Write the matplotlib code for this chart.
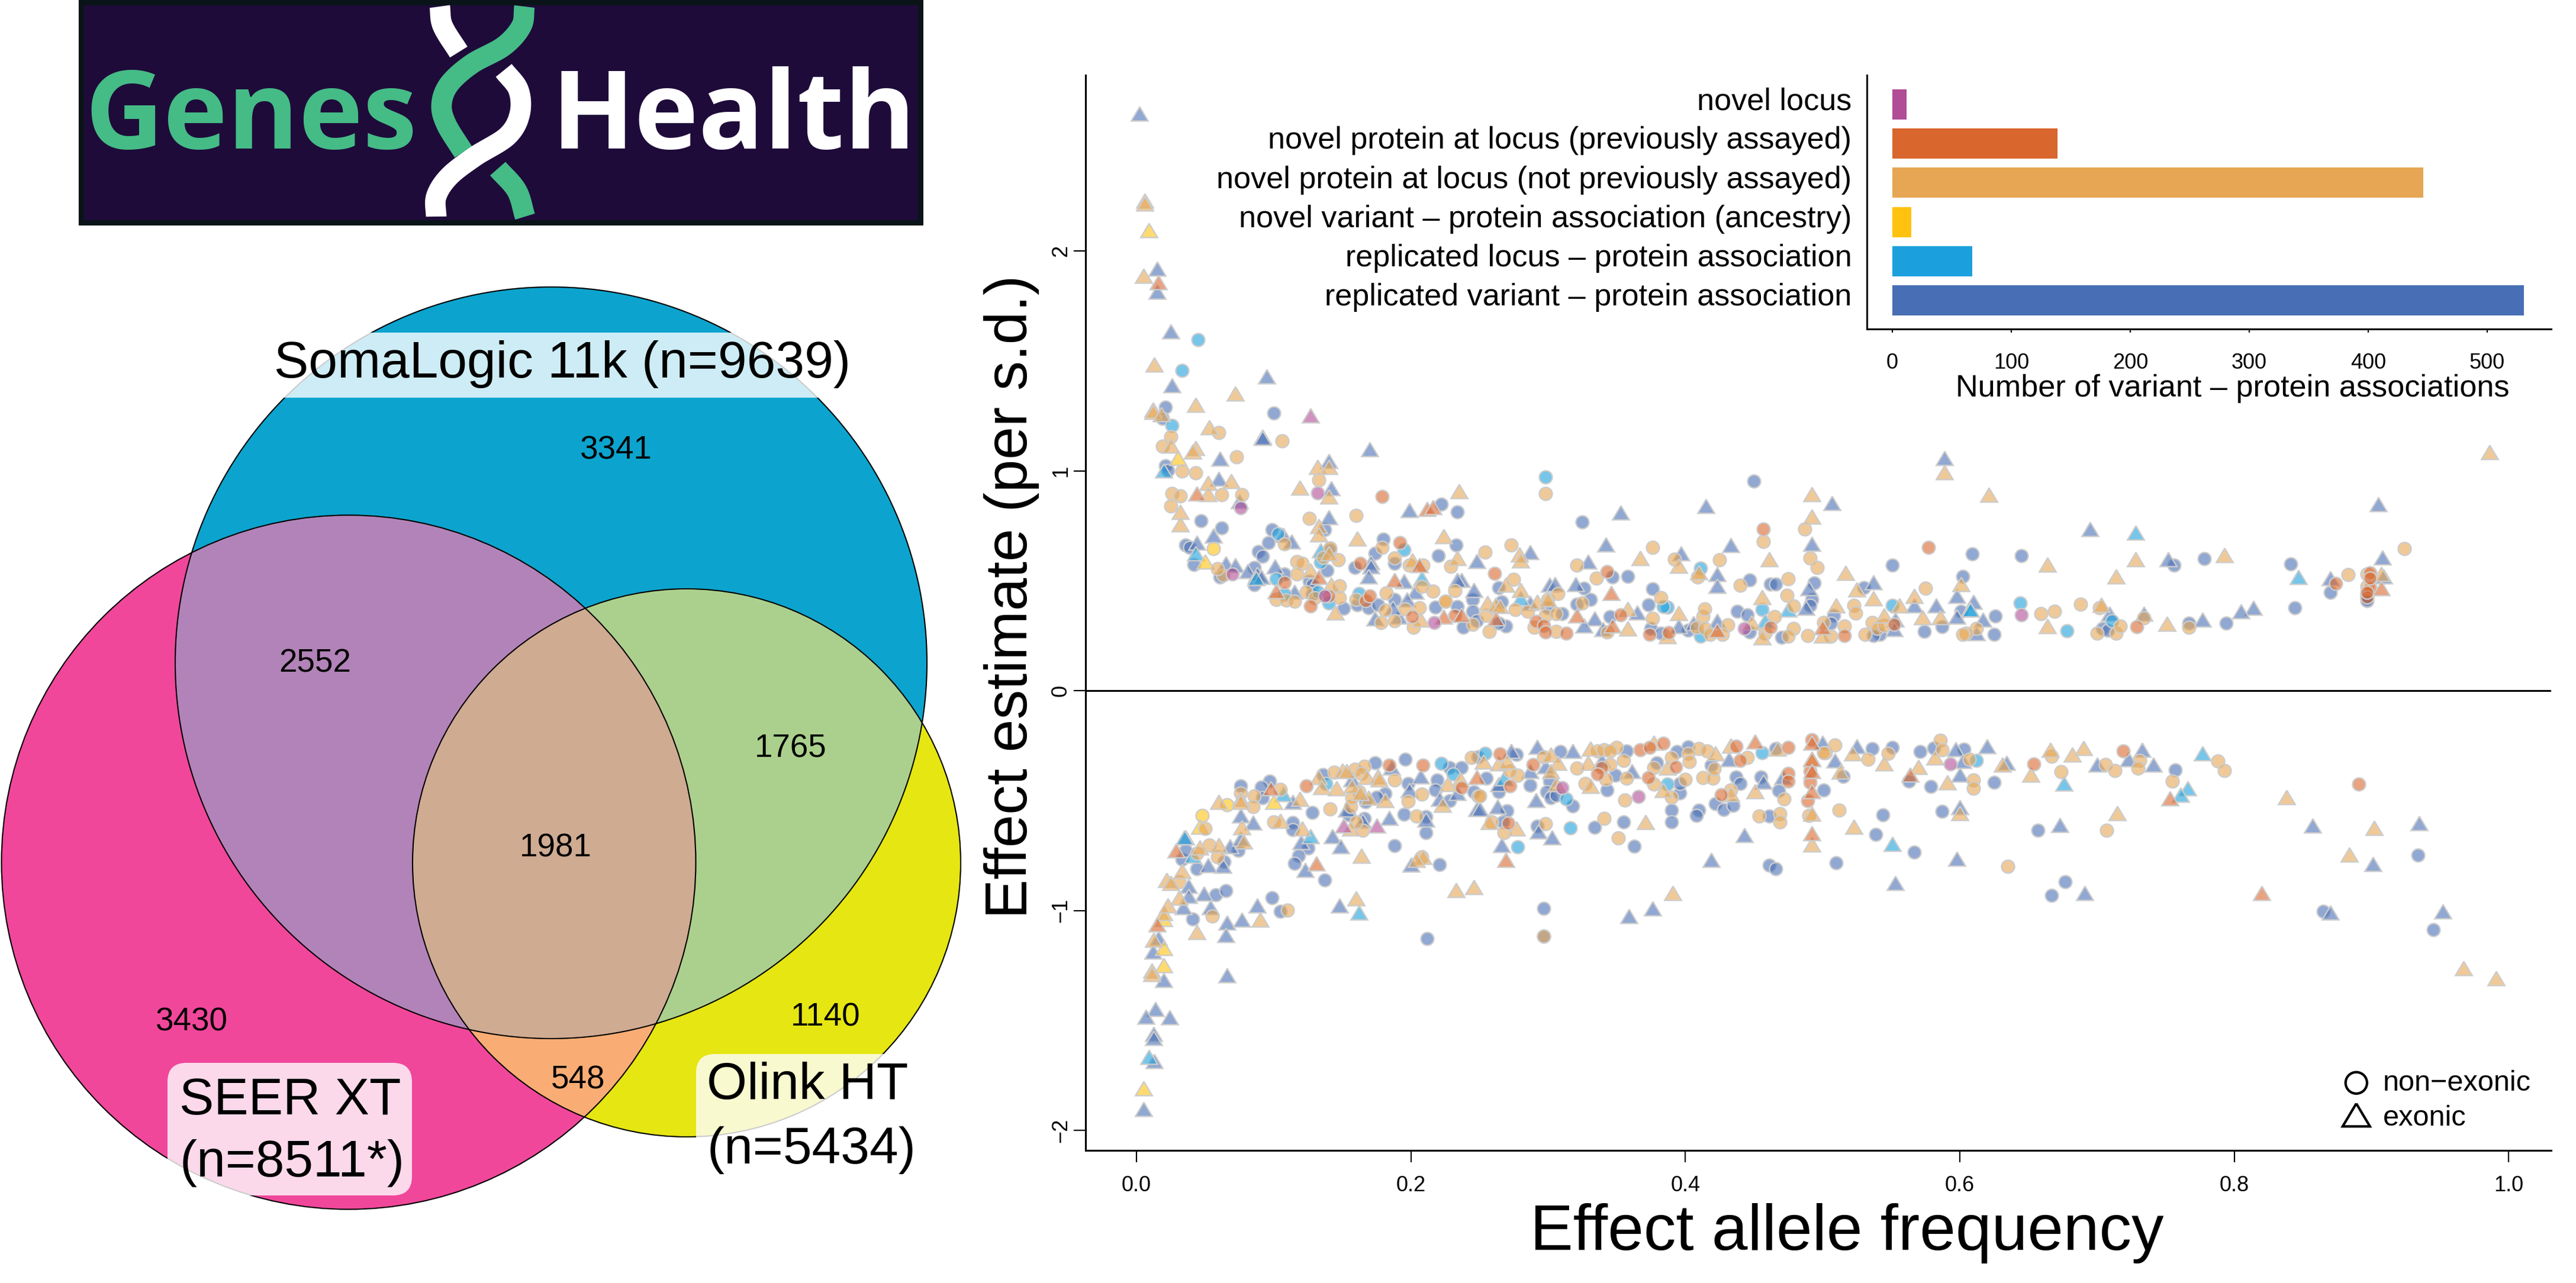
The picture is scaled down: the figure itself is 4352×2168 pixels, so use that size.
import numpy as np
import matplotlib
matplotlib.use("Agg")
import matplotlib.pyplot as plt
from matplotlib.patches import Circle, Polygon, Rectangle, FancyBboxPatch
from matplotlib.transforms import ScaledTranslation

plt.rcParams['font.family'] = ['Liberation Sans', 'DejaVu Sans']

# ---------- bar inset ----------
bar_labels = ["replicated variant \u2013 protein association",
              "replicated locus \u2013 protein association",
              "novel variant \u2013 protein association (ancestry)",
              "novel protein at locus (not previously assayed)",
              "novel protein at locus (previously assayed)",
              "novel locus"]
bar_values = [531, 67, 16, 446, 139, 12]
bar_colors = ["#486FB5", "#1CA0DD", "#FFC20E", "#E6A653", "#D9662D", "#B14C96"]

# ---------- venn ----------
venn_counts = ["3341", "2552", "1765", "1981", "3430", "1140", "548"]

# ---------- scatter: (effect allele frequency, effect estimate) ----------
blue_circle = [
(.021,1.29),(.019,1.239),(.10,1.263),(.021,1.022),(.023,1.003),
(.222,.849),(.047,.772),(.062,.741),(.099,.732),(.096,.674),(.036,.663),(.039,.651),(.089,.633),(.092,.611),(.180,.689),
(.174,.626),(.220,.615),(.159,.560),(.042,.575),(.086,.560),(.139,.548),(.108,.530),(.141,.642),(.188,.578),(.061,.517),
(.086,.481),(.126,.499),(.218,.380),(.161,.391),(.169,.378),(.176,.391),(.188,.414),(.151,.375),(.137,.732),(.128,.481),(.128,.440),
(.234,.814),(.233,.662),(.325,.768),(.450,.954),(.245,.414),(.245,.360),(.238,.288),(.269,.294),(.264,.469),(.234,.382),
(.266,.405),(.326,.467),(.331,.416),(.321,.394),(.347,.517),(.358,.519),(.376,.463),(.373,.391),(.345,.337),(.438,.360),
(.445,.346),(.447,.503),(.462,.485),(.264,.306),(.248,.319),(.300,.378),(.310,.351),(.375,.284),(.382,.261),(.402,.275),(.447,.266),
(.551,.571),(.609,.622),(.645,.615),(.602,.519),(.494,.490),(.492,.414),(.491,.387),(.530,.469),(.626,.339),(.508,.342),
(.506,.306),(.574,.270),(.587,.290),(.625,.257),(.601,.360),(.542,.257),(.537,.252),(.470,.243),(.704,.284),(.708,.275),(.466,.485),
(.778,.60),(.756,.572),(.841,.576),(.767,.308),(.794,.308),(.844,.376),(.870,.447),(.897,.436),(.897,.42),(.897,.41),
# negative
(.196,-.313),(.174,-.328),(.076,-.432),(.097,-.412),(.091,-.439),(.136,-.382),(.228,-.349),(.237,-.349),(.198,-.423),(.219,-.407),
(.218,-.452),(.246,-.461),(.249,-.300),(.128,-.553),(.181,-.468),(.175,-.483),(.167,-.506),(.228,-.501),(.114,-.600),(.114,-.631),
(.195,-.562),(.211,-.645),(.211,-.573),(.074,-.726),(.125,-.717),(.118,-.750),(.115,-.786),(.044,-.811),(.064,-.779),(.137,-.862),
(.188,-.705),(.221,-.790),(.033,-.766),(.036,-.726),(.092,-.488),(.155,-.564),(.166,-.582),
(.277,-.291),(.287,-.430),(.309,-.277),(.357,-.273),(.301,-.412),(.299,-.461),(.302,-.488),(.306,-.475),(.343,-.452),(.318,-.524),
(.349,-.385),(.390,-.544),(.390,-.597),(.410,-.544),(.408,-.569),(.422,-.513),(.428,-.542),(.435,-.521),(.437,-.394),(.440,-.423),
(.455,-.394),(.468,-.455),(.461,-.571),(.270,-.546),(.267,-.596),(.292,-.615),(.334,-.621),(.355,-.597),(.363,-.709),(.461,-.795),
(.466,-.810),(.501,-.452),(.402,-.255),(.394,-.277),(.419,-.338),(.379,-.327),(.396,-.466),(.396,-.421),(.264,-.461),(.255,-.398),(.466,-.264),
(.058,-.928),(.065,-.91),(.099,-.941),(.105,-1.003),(.041,-1.038),(.212,-1.128),(.297,-.99),(.297,-1.116),
(.551,-.259),(.536,-.264),(.563,-.412),(.579,-.435),(.571,-.278),(.581,-.26),(.603,-.266),(.625,-.416),(.515,-.391),(.544,-.566),
(.539,-.655),(.567,-.734),(.51,-.783),(.587,-.548),(.657,-.636),(.677,-.868),(.667,-.931),(.757,-.36),(.934,-.748),(.865,-1.004),(.945,-1.088),
]
blue_triangle = [
(.002,2.625),(.015,1.919),(.015,1.815),(.025,1.634),(.026,1.39),(.095,1.43),(.092,1.154),(.092,1.15),(.17,1.10),(.061,1.056),(.14,1.046),(.589,1.059),
(.142,.920),(.060,.965),(.140,.790),(.199,.822),(.056,.705),(.044,.674),(.107,.709),(.113,.678),(.065,.579),(.072,.572),(.101,.566),
(.081,.544),(.088,.530),(.091,.517),(.171,.584),(.171,.566),(.169,.521),(.195,.499),(.115,.449),(.203,.449),(.174,.328),(.191,.337),
(.187,.378),(.197,.414),(.075,.862),
(.353,.811),(.415,.841),(.342,.665),(.433,.663),(.287,.629),(.248,.590),(.329,.587),(.397,.624),(.423,.530),(.423,.476),(.301,.481),
(.305,.485),(.320,.485),(.246,.458),(.237,.503),(.234,.503),(.365,.355),(.334,.328),(.395,.293),(.406,.306),(.423,.319),(.287,.400),(.326,.297),(.340,.279),
(.507,.853),(.492,.669),(.695,.735),(.490,.467),(.537,.494),(.567,.387),(.583,.387),(.598,.432),(.610,.405),(.598,.337),(.617,.324),
(.488,.378),(.553,.324),(.709,.351),(.612,.261),(.552,.279),
(.752,.597),(.814,.376),(.805,.361),(.777,.323),(.734,.351),(.905,.848),(.908,.606),(.870,.512),(.909,.521),
# negative
(.207,-.391),(.199,-.452),(.186,-.349),(.114,-.506),(.085,-.600),(.076,-.569),(.165,-.591),(.184,-.578),(.211,-.587),(.248,-.537),
(.221,-.492),(.153,-.542),(.157,-.403),(.143,-.663),(.149,-.708),(.123,-.815),(.200,-.790),(.120,-.690),(.068,-.708),(.063,-.797),
(.052,-.793),(.076,-.672),(.036,-.667),(.038,-.887),(.234,-.466),
(.273,-.273),(.292,-.255),(.318,-.273),(.500,-.237),(.361,-.367),(.457,-.413),(.263,-.528),(.291,-.497),(.303,-.667),(.266,-.703),
(.293,-.640),(.443,-.656),(.419,-.770),(.264,-.425),(.250,-.537),(.287,-.367),(.298,-.344),(.432,-.313),(.339,-.318),(.471,-.394),
(.038,-.933),(.049,-.924),(.034,-.985),(.054,-.985),(.088,-.976),(.066,-1.055),(.077,-1.041),(.065,-1.111),(.148,-.976),(.066,-1.294),
(.359,-1.024),(.376,-.989),(.014,-1.448),(.007,-1.483),(.024,-1.486),(.0125,-1.562),(.0125,-1.58),(.013,-1.684),(.005,-1.902),(.012,-1.186),(.02,-1.317),(.016,-1.125),
(.525,-.252),(.509,-.318),(.62,-.252),(.597,-.266),(.602,-.321),(.6,-.383),(.6,-.531),(.634,-.327),(.673,-.61),(.598,-.763),(.553,-.875),
(.691,-.919),(.7,-.335),(.723,-.313),(.733,-.269),(.741,-.335),(.857,-.613),(.901,-.788),(.935,-.604),(.87,-1.008),(.952,-1.003),
]
amber_circle = [
(.06,1.173),(.025,1.154),(.019,1.112),(.073,1.063),(.106,1.137),(.033,.999),(.043,.99),
(.026,.896),(.032,.886),(.025,.840),(.062,.892),(.077,.891),(.126,.783),(.133,.959),(.160,.797),(.179,.651),(.147,.596),(.141,.649),
(.117,.587),(.121,.580),(.117,.530),(.188,.602),(.199,.572),(.209,.572),(.182,.444),(.216,.452),(.225,.408),(.202,.288),(.178,.309),
(.188,.318),(.181,.366),(.196,.373),(.206,.378),(.208,.474),(.160,.414),(.102,.414),(.109,.412),(.115,.407),(.124,.451),(.130,.424),
(.136,.606),(.148,.476),(.148,.424),(.108,.667),(.063,.526),(.059,.555),
(.273,.662),(.254,.629),(.229,.566),(.376,.651),(.321,.572),(.392,.597),(.425,.596),(.457,.680),(.335,.512),(.275,.506),(.232,.454),
(.225,.407),(.382,.424),(.440,.479),(.409,.517),(.300,.416),(.307,.441),(.276,.369),(.257,.270),(.306,.270),(.245,.301),(.285,.360),
(.290,.288),(.298,.342),(.325,.398),(.306,.351),(.376,.328),(.413,.337),(.414,.371),(.431,.300),(.465,.337),(.408,.288),(.414,.284),
(.418,.257),(.427,.257),(.458,.261),(.343,.266),(.255,.342),(.298,.898),
(.487,.736),(.491,.602),(.496,.560),(.475,.510),(.474,.434),(.479,.385),(.523,.387),(.524,.353),(.575,.467),(.688,.394),(.659,.351),
(.669,.362),(.702,.378),(.479,.282),(.489,.252),(.501,.309),(.475,.248),(.531,.257),(.536,.309),(.612,.284),(.605,.261),(.602,.257),
(.700,.261),(.714,.261),(.717,.293),(.516,.293),(.506,.248),(.540,.284),(.545,.297),
(.767,.289),(.734,.332),(.883,.529),(.924,.646),(.897,.53),(.897,.474),
# negative
(.188,-.407),(.144,-.371),(.159,-.358),(.166,-.344),(.164,-.376),(.244,-.304),(.208,-.472),(.198,-.503),(.141,-.539),(.204,-.570),
(.165,-.636),(.160,-.596),(.156,-.528),(.100,-.596),(.162,-.461),(.157,-.488),(.105,-.448),(.086,-.479),(.076,-.466),(.085,-.528),
(.050,-.627),(.053,-.703),(.059,-.757),(.044,-.739),(.031,-.869),(.208,-.757),(.249,-.479),
(.321,-.353),(.341,-.268),(.350,-.259),(.336,-.273),(.345,-.273),(.355,-.318),(.345,-.335),(.357,-.398),(.327,-.421),(.342,-.403),
(.356,-.497),(.341,-.580),(.351,-.670),(.298,-.605),(.268,-.645),(.259,-.596),(.410,-.264),(.416,-.273),(.413,-.396),(.420,-.398),
(.421,-.356),(.400,-.403),(.377,-.349),(.377,-.425),(.390,-.304),(.390,-.483),(.454,-.571),(.469,-.560),(.469,-.597),(.433,-.452),
(.472,-.492),(.490,-.569),(.502,-.282),(.445,-.304),(.250,-.479),(.278,-.385),(.272,-.367),(.297,-.300),(.402,-.286),(.403,-.322),
(.11,-.999),(.055,-1.024),(.297,-1.116),
(.586,-.225),(.509,-.246),(.533,-.313),(.548,-.286),(.501,-.283),(.587,-.269),(.607,-.313),(.61,-.405),(.61,-.444),(.667,-.299),
(.674,-.369),(.706,-.335),(.713,-.362),(.731,-.318),(.73,-.353),(.755,-.412),(.788,-.321),(.793,-.362),(.512,-.543),(.635,-.798),(.707,-.636),
]
amber_triangle = [
(.006,2.23),(.006,2.215),(.005,1.887),(.013,1.484),(.072,1.352),(.043,1.30),(.012,1.28),(.012,1.267),(.018,1.258),(.053,1.197),
(.025,1.116),(.043,1.103),(.041,1.088),(.132,1.018),(.14,1.018),
(.119,.925),(.052,.945),(.069,.952),(.052,.893),(.032,.813),(.032,.756),(.140,.884),(.133,.750),(.133,.710),(.161,.692),(.224,.702),
(.140,.626),(.127,.548),(.142,.481),(.145,.355),(.201,.593),(.207,.324),
(.235,.907),(.279,.620),(.280,.593),(.234,.602),(.367,.602),(.395,.569),(.461,.597),(.410,.539),(.269,.481),(.280,.458),(.456,.427),
(.256,.400),(.262,.391),(.265,.385),(.292,.405),(.300,.414),(.358,.371),(.395,.353),(.358,.284),(.387,.248),(.448,.310),(.456,.243),
(.492,.895),(.492,.792),(.589,.995),(.621,.891),(.517,.536),(.664,.575),(.714,.521),(.525,.461),(.537,.421),(.510,.387),(.567,.432),
(.556,.387),(.601,.485),(.703,.391),(.573,.333),(.586,.333),(.545,.342),(.664,.293),(.500,.252),
(.728,.597),(.793,.616),(.986,1.086),(.751,.304),(.907,.53),
# negative
(.060,-.506),(.076,-.492),(.076,-.506),(.119,-.492),(.150,-.362),(.153,-.367),(.133,-.394),(.135,-.439),(.146,-.443),(.157,-.434),
(.168,-.394),(.176,-.389),(.177,-.403),(.169,-.488),(.181,-.497),(.163,-.466),(.227,-.425),(.223,-.519),(.236,-.403),(.156,-.627),
(.121,-.627),(.105,-.593),(.077,-.622),(.078,-.685),(.046,-.712),(.060,-.703),(.033,-.820),(.022,-.860),(.025,-.874),(.164,-.752),
(.209,-.757),(.204,-.770),
(.253,-.322),(.264,-.331),(.270,-.322),(.302,-.291),(.307,-.327),(.302,-.367),(.331,-.264),(.329,-.327),(.331,-.434),(.377,-.237),
(.387,-.349),(.384,-.452),(.422,-.286),(.433,-.250),(.433,-.470),(.451,-.457),(.467,-.264),(.306,-.425),(.257,-.596),(.277,-.627),
(.371,-.596),(.492,-.560),(.492,-.699),(.492,-.309),
(.233,-.907),(.246,-.893),(.391,-.919),(.16,-.945),(.09,-1.041),(.044,-1.099),(.0125,-1.134),(.011,-1.273),(.011,-1.29),(.02,-1.011),(.023,-.976),(.031,-.941),
(.522,-.286),(.545,-.33),(.57,-.348),(.582,-.304),(.591,-.417),(.631,-.335),(.652,-.383),(.666,-.269),(.682,-.29),(.69,-.262),(.715,-.557),
(.600,-.557),(.523,-.618),(.513,-.369),(.838,-.484),(.902,-.624),(.884,-.746),(.967,-1.261),(.991,-1.308),
]
orange_circle = [
(.179,.884),(.192,.674),(.163,.580),(.108,.492),(.167,.409),(.170,.431),(.201,.337),(.127,.384),(.140,.431),
(.261,.533),(.457,.736),(.343,.542),(.291,.315),(.297,.297),(.298,.266),(.313,.261),(.374,.257),(.388,.263),(.353,.346),(.232,.342),(.462,.288),
(.577,.651),(.516,.252),(.552,.301),
(.729,.291),(.874,.487),(.899,.536),(.899,.470),(.899,.512),(.897,.427),(.897,.446),
# negative
(.124,-.432),(.184,-.338),(.209,-.340),(.237,-.440),
(.265,-.288),(.289,-.335),(.272,-.434),(.339,-.349),(.336,-.380),(.367,-.268),(.374,-.259),(.384,-.239),(.393,-.346),(.373,-.396),
(.437,-.253),(.440,-.318),(.426,-.474),(.475,-.259),(.475,-.376),(.475,-.412),(.491,-.416),(.489,-.501),(.492,-.223),(.271,-.602),
(.654,-.334),(.719,-.274),(.891,-.426),(.491,-.365),
]
orange_triangle = [
(.016,1.857),(.044,.898),(.212,.826),(.216,.835),(.102,.452),(.206,.570),(.133,.517),(.188,.503),(.224,.337),
(.262,.328),(.237,.346),(.347,.297),(.346,.445),(.423,.275),(.321,.342),(.500,.288),(.907,.465),
# negative
(.098,-.443),(.029,-.726),(.131,-.787),(.248,-.394),
(.451,-.232),(.492,-.237),(.492,-.313),(.492,-.367),(.492,-.457),(.492,-.649),(.269,-.770),
(.015,-1.064),(.564,-.383),(.753,-.489),(.82,-.921),
]
sky_circle = [
(.045,1.596),(.033,1.456),(.026,1.207),
(.103,.714),(.195,.642),(.134,.584),(.102,.508),(.162,.443),(.132,.449),(.140,.400),(.108,.440),
(.298,.971),(.411,.557),(.387,.380),(.384,.382),(.456,.369),(.411,.248),
(.551,.387),(.644,.400),(.678,.272),(.711,.319),
# negative
(.222,-.331),(.231,-.380),(.138,-.421),
(.254,-.286),(.387,-.425),(.313,-.492),(.316,-.624),(.278,-.710),(.456,-.282),(.612,-.318),
]
sky_triangle = [
(.02,1.003),(.134,.638),(.043,.624),(.208,.512),(.087,.512),(.280,.421),(.458,.319),(.607,.369),(.608,.369),(.475,.369),(.728,.72),(.847,.517),
# negative
(.127,-.663),(.035,-.667),(.041,-.752),(.107,-.470),(.268,-.398),
(.009,-1.666),(.162,-1.008),(.676,-.423),(.777,-.286),(.766,-.444),(.761,-.473),(.551,-.697),
]
gold_circle = [(.056,.647),(.048,-.569),(.066,-.519)]
gold_triangle = [(.009,2.094),(.03,1.059),(.050,.588),(.100,-.506),(.046,-.618),(.02,-1.172),(.02,-1.25),(.005,-1.81),(.02,-1.038)]
plum_circle = [(.076,.833),(.132,.900),(.070,.530),(.137,.431),(.217,.309),(.443,.284),(.645,.344),(.310,-.441),(.366,-.481),(.593,-.334)]
plum_triangle = [(.127,1.252),(.151,-.613),(.175,-.613)]

scatter_layers = [
    (blue_circle, blue_triangle, "#486FB5"),
    (sky_circle, sky_triangle, "#1CA0DD"),
    (gold_circle, gold_triangle, "#FFC20E"),
    (amber_circle, amber_triangle, "#E6A653"),
    (orange_circle, orange_triangle, "#D9662D"),
    (plum_circle, plum_triangle, "#B14C96"),
]

W, H = 4352, 2168
fig = plt.figure(figsize=(W / 100, H / 100), dpi=100, facecolor="white")

def axes_px(x0, x1, y0, y1):
    return fig.add_axes([x0 / W, 1 - y1 / H, (x1 - x0) / W, (y1 - y0) / H])

# ---------- page-level overlay (pixel coordinates) ----------
page = fig.add_axes([0, 0, 1, 1])
page.set_xlim(0, W)
page.set_ylim(H, 0)
page.axis("off")

# logo
page.add_patch(Rectangle((133, 0), 1427, 381, fc="#0A1418", ec="none"))
page.add_patch(Rectangle((142, 9), 1409, 363, fc="#1E0B3A", ec="none"))

def smooth(points, n=24):
    p = np.array(points, float)
    p = np.vstack([2 * p[0] - p[1], p, 2 * p[-1] - p[-2]])
    out = []
    for i in range(1, len(p) - 2):
        t = np.linspace(0, 1, n)[:, None]
        a, b, c, d = p[i - 1], p[i], p[i + 1], p[i + 2]
        out.append(0.5 * (2 * b + (c - a) * t + (2 * a - 5 * b + 4 * c - d) * t ** 2 + (3 * b - a - 3 * c + d) * t ** 3))
    return np.vstack(out)

green, white = "#45BB86", "#FFFFFF"
helix_strands = [
    ([(886, 11), (881, 44), (851, 78), (797, 108), (759, 142), (746, 176), (754, 210), (783, 257)], green),
    ([(743, 11), (748, 44), (775, 88)], white),
    ([(851, 119), (876, 152), (878, 193), (857, 230), (803, 264), (759, 298), (737, 332), (737, 366)], white),
    ([(841, 285), (873, 322), (887, 366)], green),
]
for pts, col in helix_strands:
    s = smooth(pts)
    page.plot(s[:, 0], s[:, 1], color=col, lw=25, solid_capstyle="butt", solid_joinstyle="round")
page.text(143, 251, "Genes", color=green, fontsize=132, family="Open Sans", weight="bold", ha="left", va="baseline")
page.text(932, 251, "Health", color=white, fontsize=132, family="Open Sans", weight="bold", ha="left", va="baseline")

# venn
soma = ((931, 1120), 635)
seer = ((589, 1457), 586.5)
olink = ((1160, 1458), 463)

def lens(circles, inner, n=1440):
    theta = np.linspace(0, 2 * np.pi, n, endpoint=False)
    d = np.column_stack([np.cos(theta), np.sin(theta)])
    p = np.array(inner, float)
    reach = np.full(n, np.inf)
    for c, r in circles:
        rel = p - np.array(c, float)
        b = d @ rel
        reach = np.minimum(reach, -b + np.sqrt(b ** 2 - (rel @ rel - r ** 2)))
    return p + d * reach[:, None]

for (c, r), col in [(soma, "#0CA4CE"), (seer, "#F0479B"), (olink, "#E6E612")]:
    page.add_patch(Circle(c, r, fc=col, ec="none"))
for circles, inner, col in [
    ((soma, seer), (532, 1116), "#B283B8"),
    ((soma, olink), (1336, 1261), "#ABD08D"),
    ((seer, olink), (977, 1821), "#F9AD75"),
    ((soma, seer, olink), (939, 1429), "#CFAB92"),
]:
    page.add_patch(Polygon(lens(circles, inner), closed=True, fc=col, ec="none"))
for c, r in (soma, seer, olink):
    page.add_patch(Circle(c, r, fc="none", ec="black", lw=1.5))

count_xy = [(1041, 762), (532, 1122), (1336, 1266), (939, 1434), (324, 1727), (1395, 1719), (977, 1826)]
for (x, y), t in zip(count_xy, venn_counts):
    page.text(x, y, t, fontsize=39.5, ha="center", va="center", color="black")

veil = (1, 1, 1, 0.8)
page.add_patch(Rectangle((430, 562), 1010, 110, fc=veil, ec="none"))
page.add_patch(FancyBboxPatch((283, 1796), 413, 224, boxstyle="round,pad=0,rounding_size=32", fc=veil, ec="none"))
page.add_patch(FancyBboxPatch((1176, 1781), 400, 214, boxstyle="round,pad=0,rounding_size=32", fc=veil, ec="none"))
for x, y, t in [(950, 616, "SomaLogic 11k (n=9639)"), (490, 1860, "SEER XT"), (494, 1965, "(n=8511*)"),
                (1364, 1835, "Olink HT"), (1371, 1944, "(n=5434)")]:
    page.text(x, y, t, fontsize=63, ha="center", va="center", color="black")

# page-level axis titles
page.text(1735, 1008, "Effect estimate (per s.d.)", fontsize=72, rotation=90, ha="center", va="baseline",
          rotation_mode="anchor")
page.text(3120, 2112, "Effect allele frequency", fontsize=78.5, ha="center", va="baseline")

# ---------- main scatter ----------
ax = axes_px(1834, 4310, 127, 1943.5)
ax.patch.set_alpha(0)
ax.set_xlim(-0.0371, 1.031)
ax.set_ylim(-2.09, 2.80)
tri = [(0, 0.42), (-0.5, -0.42), (0.5, -0.42), (0, 0.42)]
for circ, trian, col in scatter_layers:
    rgba = matplotlib.colors.to_rgba(col, 0.6)
    pts = np.array(circ)
    ax.scatter(pts[:, 0], pts[:, 1], s=250, marker="o", facecolors=[rgba], edgecolors="#CCCCCC", linewidths=1.7, zorder=3)
    pts = np.array(trian)
    t = ax.scatter(pts[:, 0], pts[:, 1], s=420, marker=tri, facecolors=[rgba], edgecolors="#CCCCCC", linewidths=1.7, zorder=3)
    t.set_joinstyle("miter")
ax.axhline(0, color="black", lw=2.2, zorder=4)
for side in ("top", "right"):
    ax.spines[side].set_visible(False)
for side in ("left", "bottom"):
    ax.spines[side].set_linewidth(2.2)
ax.set_xticks([0, .2, .4, .6, .8, 1.0])
ax.set_xticklabels(["0.0", "0.2", "0.4", "0.6", "0.8", "1.0"])
ax.set_yticks([-2, -1, 0, 1, 2])
ax.set_yticklabels(["\u22122", "\u22121", "0", "1", "2"], rotation=90, va="center")
ax.tick_params(axis="x", length=14.4, width=1.6, labelsize=26, pad=16)
ax.tick_params(axis="y", length=14.4, width=1.6, labelsize=26, pad=3)

# shape key
ax.scatter([.889], [-1.784], s=680, marker="o", facecolors="none", edgecolors="black", linewidths=3, zorder=5)
k = ax.scatter([.889], [-1.93], s=1100, marker=tri, facecolors="none", edgecolors="black", linewidths=3, zorder=5)
k.set_joinstyle("miter")
ax.text(.9085, -1.785, "non\u2212exonic", fontsize=35, ha="left", va="center")
ax.text(.9085, -1.945, "exonic", fontsize=35, ha="left", va="center")

# ---------- bar inset ----------
ins = axes_px(3154, 4310, 127, 556)
ins.patch.set_alpha(0)
ins.barh(range(len(bar_values)), bar_values, height=0.77, color=bar_colors)
ins.set_xlim(-21.4, 553.7)
ins.set_ylim(-0.733, 5.75)
ins.set_yticks(range(len(bar_labels)))
ins.set_yticklabels(bar_labels)
ins.set_xticks([0, 100, 200, 300, 400, 500])
ins.tick_params(axis="y", length=0, labelsize=37.5, pad=18.5)
ins.tick_params(axis="x", length=4.5, width=1.6, labelsize=26, pad=24)
lift = ScaledTranslation(0, 7.5 / 72, fig.dpi_scale_trans)
for lab in ins.get_yticklabels():
    lab.set_transform(lab.get_transform() + lift)
for side in ("top", "right"):
    ins.spines[side].set_visible(False)
for side in ("left", "bottom"):
    ins.spines[side].set_linewidth(2.2)
page.text(3772, 670, "Number of variant \u2013 protein associations", fontsize=37.6, ha="center", va="baseline")

fig.savefig("out.png", dpi=100)
